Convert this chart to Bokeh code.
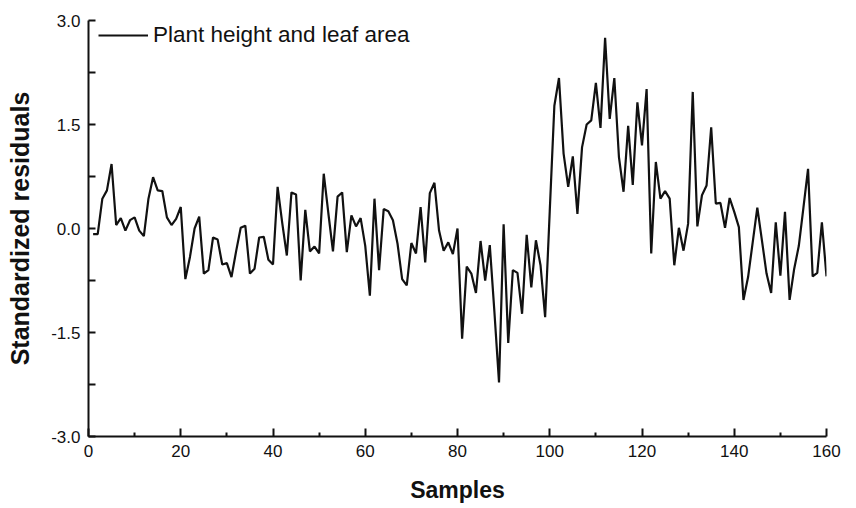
from bokeh.plotting import figure
from bokeh.models import (Range1d, FixedTicker, PrintfTickFormatter, Legend, LegendItem,
                          ColumnDataSource)
from bokeh.embed import file_html
from bokeh.resources import INLINE

# Standardized residuals per sample (samples 1..160)
samples = list(range(1, 161))
residuals = [
    -0.08, -0.08, 0.43, 0.55, 0.93, 0.05, 0.15, -0.03, 0.12, 0.16,
    -0.03, -0.11, 0.43, 0.74, 0.55, 0.54, 0.16, 0.05, 0.14, 0.31,
    -0.73, -0.41, 0.00, 0.17, -0.65, -0.60, -0.13, -0.16, -0.52, -0.50,
    -0.70, -0.33, 0.01, 0.04, -0.65, -0.58, -0.13, -0.12, -0.45, -0.52,
    0.60, 0.08, -0.39, 0.52, 0.49, -0.75, 0.27, -0.33, -0.26, -0.36,
    0.79, 0.22, -0.33, 0.46, 0.52, -0.34, 0.19, 0.03, 0.15, -0.25,
    -0.97, 0.43, -0.60, 0.28, 0.25, 0.12, -0.22, -0.73, -0.82, -0.21,
    -0.36, 0.31, -0.49, 0.51, 0.66, -0.03, -0.32, -0.20, -0.37, 0.00,
    -1.59, -0.55, -0.65, -0.93, -0.18, -0.75, -0.24, -1.20, -2.22, 0.06,
    -1.65, -0.60, -0.64, -1.23, -0.09, -0.85, -0.17, -0.53, -1.28, 0.25,
    1.77, 2.17, 1.08, 0.60, 1.04, 0.21, 1.17, 1.50, 1.56, 2.10,
    1.45, 2.75, 1.58, 2.17, 1.03, 0.53, 1.48, 0.63, 1.82, 1.20,
    2.01, -0.36, 0.96, 0.43, 0.54, 0.43, -0.53, 0.01, -0.32, 0.07,
    1.97, 0.03, 0.48, 0.62, 1.46, 0.36, 0.37, 0.01, 0.44, 0.24,
    0.02, -1.03, -0.70, -0.20, 0.30, -0.17, -0.65, -0.93, 0.09, -0.68,
    0.24, -1.03, -0.58, -0.25, 0.30, 0.86, -0.69, -0.64, 0.09, -0.69,
]

x_ticks = [0, 20, 40, 60, 80, 100, 120, 140, 160]
x_minor = [10, 30, 50, 70, 90, 110, 130, 150]
y_ticks = [-3.0, -1.5, 0.0, 1.5, 3.0]
y_minor = [-2.25, -0.75, 0.75, 2.25]
series_name = "Plant height and leaf area"

FONT = "Liberation Sans"

p = figure(width=856, height=508, output_backend="svg", toolbar_location=None,
           x_range=Range1d(0, 160), y_range=Range1d(-3, 3),
           min_border_left=88, min_border_right=30, min_border_top=20, min_border_bottom=72)
p.outline_line_color = None
p.xgrid.visible = False
p.ygrid.visible = False
p.background_fill_color = "white"
p.border_fill_color = "white"

src = ColumnDataSource(dict(x=samples, y=residuals))
r = p.line("x", "y", source=src, line_color="#111111", line_width=2.2)

# axes: inward ticks, no outward ticks
for ax in (p.xaxis[0], p.yaxis[0]):
    ax.axis_line_width = 2
    ax.axis_line_color = "#111111"
    ax.major_tick_line_width = 2
    ax.minor_tick_line_width = 2
    ax.major_tick_line_color = "#111111"
    ax.minor_tick_line_color = "#111111"
    ax.major_tick_out = 0
    ax.minor_tick_out = 0
    ax.major_label_text_font = FONT
    ax.major_label_text_font_size = "17px"
    ax.major_label_text_color = "#111111"
    ax.axis_label_text_font = FONT
    ax.axis_label_text_font_style = "bold"
    ax.axis_label_text_color = "#111111"

p.xaxis.ticker = FixedTicker(ticks=x_ticks, minor_ticks=x_minor)
p.xaxis.major_tick_in = 8
p.xaxis.minor_tick_in = 4
p.xaxis.major_label_standoff = 8
p.xaxis.axis_label = "Samples"
p.xaxis.axis_label_text_font_size = "23px"
p.xaxis.axis_label_standoff = 17

p.yaxis.ticker = FixedTicker(ticks=y_ticks, minor_ticks=y_minor)
p.yaxis.formatter = PrintfTickFormatter(format="%.1f")
p.yaxis.major_tick_in = 7
p.yaxis.minor_tick_in = 7
p.yaxis.major_label_standoff = 8
p.yaxis.axis_label = "Standardized residuals"
p.yaxis.axis_label_text_font_size = "25px"
p.yaxis.axis_label_standoff = 14

# legend anchored near the top-left corner of the frame (offsets in screen px)
legend = Legend(items=[LegendItem(label=series_name, renderers=[r])],
                location=(10, 388), padding=0, margin=0,
                glyph_width=50, glyph_height=20, label_standoff=5,
                label_text_font=FONT, label_text_font_size="22.5px",
                label_text_color="#111111",
                border_line_color=None, background_fill_alpha=0)
p.add_layout(legend)

open("out.html", "w").write(file_html(p, INLINE))
